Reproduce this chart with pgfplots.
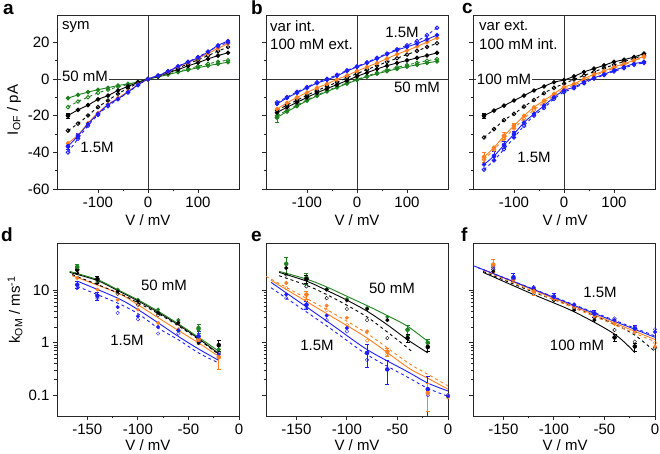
\documentclass[border=0pt]{standalone}
\usepackage{fontspec}
\setmainfont{Liberation Sans}
\usepackage{pgfplots}
\usepackage{pgfplotstable}
\pgfplotsset{compat=1.18}
\definecolor{cb}{RGB}{30,30,250}
\definecolor{co}{RGB}{255,128,32}
\definecolor{cg}{RGB}{30,130,30}
\newcommand\fs{\fontsize{15}{18}\selectfont}
\tikzset{zl/.style={black!80, line width=0.8pt}}

\pgfplotstableread{
V bf bo of kf ko gf go
-160 -36.7 -40 -35 -19.9 -28.1 -10.4 -15.3
-140 -31 -32.5 -30.5 -16.8 -24.3 -8.6 -12.2
-120 -24.5 -25.5 -24 -14.2 -19.9 -7.1 -9.9
-100 -19 -19.5 -18.5 -11.1 -15.3 -5.8 -7.5
-80 -14 -14.8 -13.8 -9 -11.7 -4.7 -5.8
-60 -10.8 -11 -10.3 -6.2 -8 -3.5 -4.2
-40 -7.1 -7.3 -6.8 -4 -5 -2.6 -3
-20 -3.1 -3.3 -3 -1.8 -2.2 -1.5 -1.6
0 0 0 0 0 0 0 0
20 1.8 2 1.8 1.5 1.7 1.2 1.3
40 4.2 4.3 4 3.4 3.8 2.5 2.7
60 6.9 7 6.6 5.2 6 3.8 4.2
80 9.3 9.5 9 7.2 8.3 5 5.6
100 11.7 12 11.3 9 10.5 6.2 7
120 14.8 15 14 11 12.8 7.3 8.3
140 18.4 17.8 16.8 12.8 15.3 8.3 9.5
160 20.8 20 19.3 14.4 17.5 9.2 10.3
}\tA

\pgfplotstableread{
V bf bo of kf ko gf go
-160 -13.6 -12.7 -16.3 -18.2 -17 -20.9 -20
-140 -10.3 -9.8 -13 -15.4 -14.2 -17.8 -17
-120 -7.5 -7 -10 -12.7 -11.5 -14.8 -14.2
-100 -4.8 -4.3 -7.3 -10 -8.8 -11.8 -11.4
-80 -2.2 -1.8 -4.8 -7.5 -6.3 -9.2 -8.8
-60 -0.4 0.2 -2.6 -5.2 -4 -6.8 -6.4
-40 1.8 2.3 -0.2 -3 -1.7 -4.6 -4.2
-20 4.4 4.8 2 -0.8 0.7 -2.5 -2.1
0 6.6 7 4.4 1.5 3 -0.5 -0.2
20 8.8 9.2 6.6 3.5 5.2 1.3 1.7
40 11.2 11.6 8.8 5.5 7.3 2.9 3.4
60 13.6 14 11.2 7.3 9.4 4.3 5
80 15.8 16.3 13.6 8.8 11.4 5.6 6.4
100 17.6 18.5 15.6 10.2 13.4 6.8 7.7
120 19.4 20.8 17.8 11.6 15.4 7.8 8.9
140 21.7 24 20.2 12.9 17.5 8.8 10
160 24 28 22.5 14.3 19.6 9.7 11
}\tB

\pgfplotstableread{
V kf ko of oo bf bo
-160 -20 -31.9 -42.6 -44 -46.6 -49.4
-140 -17.2 -27.3 -37.4 -38.5 -42 -44.4
-120 -14.5 -22.4 -31 -32.5 -36 -38.3
-100 -11.7 -19 -25.5 -27 -30 -31.9
-80 -9 -15 -20 -21.5 -23.7 -25.5
-60 -6.2 -11.4 -15.4 -16.8 -19 -20
-40 -4 -7.7 -11.7 -12.8 -14.5 -15.8
-20 -1.7 -4.8 -8 -9 -9.9 -10.8
0 -0.5 -2.5 -4.4 -5.5 -6.2 -7.1
20 1.5 -0.2 -2.6 -3.3 -4.4 -5
40 3.9 2 0.2 -0.8 -1.6 -2.3
60 5.7 4 2.6 1.8 0.7 0.2
80 7.5 6 4.4 3.8 2.6 2.2
100 9.4 7.8 6.6 6 4.8 4.2
120 10.6 9.6 8.4 7.9 6.6 6
140 12.1 11.3 10.3 9.9 8.4 7.8
160 13.9 13 12.5 12 9.4 8.8
}\tC

\pgfplotstableread{
V gf go kf ko of bf bo
-160 27.9 25 24.8 21.4 17.2 12.8 11
-140 15.5 15 16.4 13.8 10.3 7.9 7.1
-120 10.3 9.8 9.5 8.6 6.6 4.8 3.7
-100 6.6 6.3 6.2 5.3 4.3 3.2 2.8
-80 4.3 4.0 3.7 3.4 2.4 2.0 1.5
-60 2.7 2.5 2.4 1.72 1.8 1.72 1.5
-40 1.77 1.9 0.99 1.15 1.15 1.33 1.1
-20 0.75 0.7 0.9 0.64 0.53 0.6 0.53
}\tD

\pgfplotstableread{
V gf kf ko of oo bf bo
-160 32 26.7 19.9 13.8 11 8.3 7.1
-140 17.2 16.4 11.9 8.3 6.6 5.3 4.6
-120 10.6 10.3 7.1 5.1 4.2 3.3 2.7
-100 6.8 6.4 4.4 3.0 2.2 1.9 1.65
-80 4.6 4.4 2.7 1.65 1.1 0.64 0.47
-60 3.1 2.7 1.23 0.68 0.6 0.31 nan
-40 1.77 1.23 nan nan nan nan nan
-20 1.0 0.83 nan 0.11 0.13 0.13 0.1
0 nan nan nan 0.09 0.1 0.095 0.1
}\tE

\pgfplotstableread{
V bf bo of oo kf ko
-160 29.5 27 31 28 23 25
-140 17.8 17 16 15 16 17
-120 11.1 11.5 9.5 9.8 10 10.5
-100 7.6 7.3 6.8 7 6.5 7
-80 5.4 5.2 4.8 5 4.2 4.6
-60 3.6 3.8 3.2 3.4 2.7 3.0
-40 2.7 2.9 2.3 2.5 1.26 1.75
-20 1.87 2.0 1.6 1.7 0.85 1.05
0 1.6 1.8 0.85 1.0 nan 0.8
}\tF

\pgfplotsset{
  panelbase/.style={scale only axis, width=182pt, anchor=south west,
    axis line style={black!85, line width=0.8pt},
    every tick/.style={black!85, line width=0.8pt},
    tick align=outside, tick pos=left,
    major tick length=4pt, minor tick length=2.5pt,
    tick label style={font=\fs}},
  toprow/.style={panelbase, height=174pt, xmin=-182, xmax=182, ymin=-60, ymax=35,
    xtick={-100,0,100}, xticklabels={-100,0,100}, minor x tick num=1,
    ytick={-60,-40,-20,0,20}, minor y tick num=1, yticklabels={}},
  botrow/.style={panelbase, height=173pt, xmin=-180, xmax=0, ymin=0.04, ymax=80,
    xtick={-150,-100,-50,0}, xticklabels={-150,-100,-50,0}, minor x tick num=1,
    ytick={0.1,1,10}, yticklabels={}},
  lw/.style={line width=0.9pt},
  sBF/.style={cb, lw, smooth, mark=*, mark size=1.8pt, mark options={solid, fill=cb}},
  sBO/.style={cb, lw, smooth, dashed, mark=o, mark size=1.8pt, mark options={solid}},
  sOF/.style={co, lw, smooth, mark=*, mark size=1.8pt, mark options={solid, fill=co}},
  sOO/.style={co, lw, smooth, dashed, mark=o, mark size=1.8pt, mark options={solid}},
  sKF/.style={black, lw, smooth, mark=*, mark size=1.8pt, mark options={solid, fill=black}},
  sKO/.style={black, lw, smooth, dashed, mark=o, mark size=1.8pt, mark options={solid}},
  sGF/.style={cg, lw, smooth, mark=*, mark size=1.8pt, mark options={solid, fill=cg}},
  sGO/.style={cg, lw, smooth, dashed, mark=o, mark size=1.8pt, mark options={solid}},
  mBF/.style={cb, only marks, mark=*, mark size=1.8pt, mark options={fill=cb}},
  mBO/.style={cb, only marks, mark=o, mark size=1.8pt},
  mOF/.style={co, only marks, mark=*, mark size=1.8pt, mark options={fill=co}},
  mOO/.style={co, only marks, mark=o, mark size=1.8pt},
  mKF/.style={black, only marks, mark=*, mark size=1.8pt, mark options={fill=black}},
  mKO/.style={black, only marks, mark=o, mark size=1.8pt},
  mGF/.style={cg, only marks, mark=*, mark size=1.8pt, mark options={fill=cg}},
  mGO/.style={cg, only marks, mark=triangle, mark size=2pt},
  fB/.style={cb, lw, no marks, smooth},
  fBd/.style={cb, lw, no marks, smooth, dashed},
  fO/.style={co, lw, no marks, smooth},
  fOd/.style={co, lw, no marks, smooth, dashed},
  fK/.style={black, lw, no marks, smooth},
  fKd/.style={black, lw, no marks, smooth, dashed},
  fG/.style={cg, lw, no marks, smooth},
  eB/.style={only marks, mark=none, error bars/y dir=both, error bars/y explicit,
    error bars/error bar style={line width=0.7pt}},
}

\begin{document}
\begin{tikzpicture}
\useasboundingbox (0,0) rectangle (660pt,454pt);

% ---- a ----
\begin{axis}[toprow, at={(57pt,265pt)}, yticklabels={-60,-40,-20,0,20}]
\draw[zl] (axis cs:0,-60) -- (axis cs:0,35);
\draw[zl] (axis cs:-182,0) -- (axis cs:182,0);
\addplot[sGO] table[x=V,y=go]{\tA};
\addplot[sGF] table[x=V,y=gf]{\tA};
\addplot[sKO] table[x=V,y=ko]{\tA};
\addplot[sKF] table[x=V,y=kf]{\tA};
\addplot[sOF] table[x=V,y=of]{\tA};
\addplot[sBO] table[x=V,y=bo]{\tA};
\addplot[sBF] table[x=V,y=bf]{\tA};
\addplot[cb, eB] coordinates {(-160,-36.7) +- (0,1.5) (-140,-31) +- (0,1.2)};
\addplot[black, eB] coordinates {(-160,-19.9) +- (0,1.5)};
\end{axis}

% ---- b ----
\begin{axis}[toprow, at={(266pt,265pt)}]
\draw[zl] (axis cs:0,-60) -- (axis cs:0,35);
\draw[zl] (axis cs:-182,0) -- (axis cs:182,0);
\addplot[sGO] table[x=V,y=go]{\tB};
\addplot[sGF] table[x=V,y=gf]{\tB};
\addplot[sKO] table[x=V,y=ko]{\tB};
\addplot[sKF] table[x=V,y=kf]{\tB};
\addplot[sOF] table[x=V,y=of]{\tB};
\addplot[sBO] table[x=V,y=bo]{\tB};
\addplot[sBF] table[x=V,y=bf]{\tB};
\addplot[cg, eB] coordinates {(-160,-20.9) +- (0,2.5)};
\end{axis}

% ---- c ----
\begin{axis}[toprow, at={(473pt,265pt)}]
\draw[zl] (axis cs:0,-60) -- (axis cs:0,35);
\draw[zl] (axis cs:-182,0) -- (axis cs:182,0);
\addplot[sKO] table[x=V,y=ko]{\tC};
\addplot[sKF] table[x=V,y=kf]{\tC};
\addplot[sOO] table[x=V,y=oo]{\tC};
\addplot[sOF] table[x=V,y=of]{\tC};
\addplot[sBO] table[x=V,y=bo]{\tC};
\addplot[sBF] table[x=V,y=bf]{\tC};
\addplot[co, eB] coordinates {(-160,-42.6) +- (0,2.5) (-120,-31) +- (0,2) (-100,-25.5) +- (0,1.5)};
\addplot[cb, eB] coordinates {(-140,-42) +- (0,2.5) (-120,-36) +- (0,2) (-100,-30) +- (0,1.5)};
\addplot[black, eB] coordinates {(-160,-20) +- (0,1.5)};
\end{axis}

% ---- d ----
\begin{semilogyaxis}[botrow, at={(57pt,38pt)}, yticklabels={0.1,1,10}]
\addplot[fBd] coordinates {(-160,11.9) (-120,5.7) (-100,3.6) (-80,1.9) (-60,1.14) (-40,0.64) (-20,0.41)};
\addplot[fB] coordinates {(-160,15) (-120,7.1) (-100,4.3) (-80,2.4) (-60,1.32) (-40,0.76) (-20,0.46)};
\addplot[fO] coordinates {(-165,19) (-120,8.9) (-100,5.3) (-80,3.0) (-60,1.72) (-40,0.99) (-20,0.55)};
\addplot[fKd] coordinates {(-165,20) (-120,9.0) (-100,5.8) (-80,3.6) (-60,2.1) (-40,1.15) (-20,0.6)};
\addplot[fK] coordinates {(-167.5,22) (-140,15.4) (-120,9.9) (-100,6.3) (-80,3.8) (-60,2.2) (-40,1.2) (-20,0.62)};
\addplot[fG] coordinates {(-167.5,23) (-140,16) (-120,10.3) (-100,6.6) (-80,4.0) (-60,2.3) (-40,1.27) (-20,0.69)};
\addplot[mGO] table[x=V,y=go]{\tD};
\addplot[mGF] table[x=V,y=gf]{\tD};
\addplot[mKO] table[x=V,y=ko]{\tD};
\addplot[mKF] table[x=V,y=kf]{\tD};
\addplot[mOF] table[x=V,y=of]{\tD};
\addplot[mBO] table[x=V,y=bo]{\tD};
\addplot[mBF] table[x=V,y=bf]{\tD};
\addplot[co, eB] coordinates {(-20,0.53) +- (0,0.22) (-40,1.15) +- (0,0.2)};
\addplot[black, eB] coordinates {(-20,0.9) +- (0,0.2) (-140,16.4) +- (0,2.5) (-160,24.8) +- (0,4)};
\addplot[cg, eB] coordinates {(-40,1.9) +- (0,0.4) (-160,27.9) +- (0,4)};
\addplot[cb, eB] coordinates {(-160,12.8) +- (0,2) (-140,7.9) +- (0,1.3) (-40,1.33) +- (0,0.3)};
\end{semilogyaxis}

% ---- e ----
\begin{semilogyaxis}[botrow, at={(266pt,38pt)}]
\addplot[fBd] coordinates {(-175,11.2) (-120,2.1) (-80,0.59) (-40,0.22) (-20,0.135) (0,0.095)};
\addplot[fB] coordinates {(-175,14.2) (-120,2.6) (-80,0.74) (-40,0.28) (-20,0.17) (0,0.12)};
\addplot[fOd] coordinates {(-180,18.5) (-120,4.3) (-80,1.5) (-40,0.42) (-20,0.25) (0,0.15)};
\addplot[fO] coordinates {(-175,15.5) (-120,3.6) (-80,1.23) (-40,0.34) (-20,0.21) (0,0.13)};
\addplot[fKd] coordinates {(-167,19) (-140,12.5) (-120,8.3) (-100,5.2) (-80,3.1) (-60,1.6) (-40,0.8) (-36,0.68)};
\addplot[fK] coordinates {(-167,22) (-140,15) (-120,10) (-100,6.5) (-80,4.0) (-60,2.2) (-40,1.14) (-20,0.64)};
\addplot[fG] coordinates {(-167,23) (-140,16.4) (-120,11.6) (-100,7.7) (-80,5.1) (-60,3.3) (-40,2.06) (-20,1.06)};
\addplot[mGF] table[x=V,y=gf]{\tE};
\addplot[mKO] table[x=V,y=ko]{\tE};
\addplot[mKF] table[x=V,y=kf]{\tE};
\addplot[mOO] table[x=V,y=oo]{\tE};
\addplot[mOF] table[x=V,y=of]{\tE};
\addplot[mBO] table[x=V,y=bo]{\tE};
\addplot[mBF] table[x=V,y=bf]{\tE};
\addplot[cg, eB] coordinates {(-160,32) +- (0,11) (-140,17.2) +- (0,4) (-40,1.77) +- (0,0.4) (-20,1.0) +- (0,0.15)};
\addplot[black, eB] coordinates {(-40,1.23) +- (0,0.2) (-20,0.83) +- (0,0.15) (-140,16.4) +- (0,3)};
\addplot[cb, eB] coordinates {(-140,5.3) +- (0,1) (-80,0.64) +- (0,0.3) (-60,0.31) +- (0,0.15) (-20,0.13) +- (0,0.1)};
\addplot[co, eB] coordinates {(-20,0.11) +- (0,0.06) (-60,0.68) +- (0,0.12) (-140,8.3) +- (0,1.5)};
\end{semilogyaxis}

% ---- f ----
\begin{semilogyaxis}[botrow, at={(473pt,38pt)}]
\addplot[fK] coordinates {(-170,22) (-120,8.3) (-80,3.9) (-40,1.46) (-20,0.65)};
\addplot[fKd] coordinates {(-170,23) (-120,9.2) (-80,4.8) (-40,2.25) (-20,1.4) (0,0.68)};
\addplot[fO] coordinates {(-170,25) (0,1.15)};
\addplot[fOd] coordinates {(-170,24) (0,1.05)};
\addplot[fB] coordinates {(-180,29.7) (0,1.27)};
\addplot[fBd] coordinates {(-175,27) (0,1.35)};
\addplot[mKO] table[x=V,y=ko]{\tF};
\addplot[mKF] table[x=V,y=kf]{\tF};
\addplot[mOO] table[x=V,y=oo]{\tF};
\addplot[mOF] table[x=V,y=of]{\tF};
\addplot[mBO] table[x=V,y=bo]{\tF};
\addplot[mBF] table[x=V,y=bf]{\tF};
\addplot[co, eB] coordinates {(-160,31) +- (0,9) (-120,9.5) +- (0,1.5)};
\addplot[cb, eB] coordinates {(-140,17.8) +- (0,3) (-100,7.6) +- (0,1.2) (-60,3.6) +- (0,0.5) (-20,1.87) +- (0,0.3)};
\addplot[black, eB] coordinates {(-40,1.26) +- (0,0.2) (-20,0.85) +- (0,0.15)};
\end{semilogyaxis}

% ---- texts ----
\begin{scope}[every node/.style={font=\fs, inner sep=1pt}]
\node[anchor=west] at (61pt,427pt) {sym};
\node[fill=white] at (85pt,378pt) {50 mM};
\node at (97pt,307pt) {1.5M};
\node[anchor=west] at (269pt,428pt) {var int.};
\node[anchor=west] at (269pt,410pt) {100 mM ext.};
\node at (402pt,422pt) {1.5M};
\node[fill=white] at (417pt,367pt) {50 mM};
\node[anchor=west] at (478pt,428pt) {var ext.};
\node[anchor=west] at (478pt,410pt) {100 mM int.};
\node[fill=white] at (504pt,375pt) {100 mM};
\node at (534pt,297pt) {1.5M};
\node at (164pt,169pt) {50 mM};
\node at (127pt,114pt) {1.5M};
\node at (392pt,166pt) {50 mM};
\node at (317pt,109pt) {1.5M};
\node at (600pt,162pt) {1.5M};
\node at (577pt,109pt) {100 mM};
\node at (148pt,234pt) {V / mV};
\node at (357pt,234pt) {V / mV};
\node at (565pt,234pt) {V / mV};
\node at (148pt,9pt) {V / mV};
\node at (357pt,9pt) {V / mV};
\node at (565pt,9pt) {V / mV};
\node[rotate=90] at (14pt,344pt) {I\textsubscript{OF} / pA};
\node[rotate=90] at (15pt,144pt) {k\textsubscript{OM} / ms\textsuperscript{-1}};
\end{scope}
\begin{scope}[every node/.style={font=\fontsize{19}{22}\selectfont\bfseries, inner sep=0pt, anchor=base west}]
\node at (3pt,439pt) {a};
\node at (251pt,439pt) {b};
\node at (462pt,440pt) {c};
\node at (1pt,212pt) {d};
\node at (251pt,212pt) {e};
\node at (461pt,212pt) {f};
\end{scope}
\end{tikzpicture}
\end{document}
